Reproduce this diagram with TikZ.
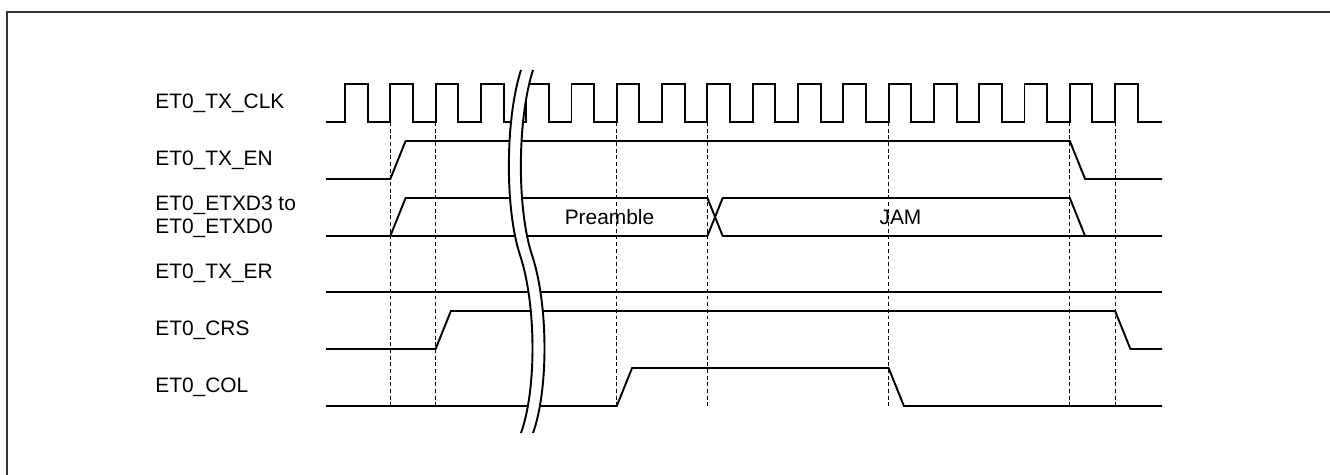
\documentclass[tikz,border=0pt]{standalone}
\usepackage{fontspec}
\setmainfont{Liberation Sans}
\usepackage{tikz}
\usetikzlibrary{positioning}
\tikzset{
  every node/.style={font=\fontsize{11.9}{13.4}\selectfont},
  signame/.style={anchor=west, align=left, inner sep=0pt},
  wave/.style={line width=1.1pt, line join=miter},
  guide/.style={line width=0.6pt, dash pattern=on 2.2pt off 1.6pt},
  brkline/.style={line width=1.1pt},
  frame/.style={line width=0.9pt, draw=black!80},
}

\begin{document}
\begin{tikzpicture}[x=0.02cm, y=-0.02cm]
  \useasboundingbox (0,0) rectangle (1330,475);
  \draw[frame] (7,475) -- (7,12) -- (1330,12);

  \node[signame] (clk) at (155,103) {ET0\_TX\_CLK};
  \node[signame] (en)  at (155,160) {ET0\_TX\_EN};
  \node[signame] (txd) at (155,217) {ET0\_ETXD3 to\\ET0\_ETXD0};
  \node[signame] (er)  at (155,273) {ET0\_TX\_ER};
  \node[signame] (crs) at (155,330) {ET0\_CRS};
  \node[signame] (col) at (155,387) {ET0\_COL};

  \foreach \k in {1,2,6,8,12,16,17}
    \draw[guide] ({345+\k*45.3},122) -- ({345+\k*45.3},406);

  \draw[wave] (326,122) foreach \k in {0,...,17} {
      -- ({345+\k*45.3},122) -- ({345+\k*45.3},84)
      -- ({367.65+\k*45.3},84) -- ({367.65+\k*45.3},122) } -- (1162,122);
  \draw[wave] (326,179) -- (390.3,179) -- (405.6,141) -- (1069.8,141) -- (1085.1,179) -- (1162,179);
  \draw[wave] (326,236) -- (390.3,236) -- (405.6,198) -- (707.4,198) -- (722.7,236) -- (1162,236);
  \draw[wave] (390.3,236) -- (707.4,236) -- (722.7,198) -- (1069.8,198) -- (1085.1,236);
  \draw[wave] (326,292) -- (1162,292);
  \draw[wave] (326,349) -- (435.6,349) -- (450.9,311) -- (1115.1,311) -- (1130.4,349) -- (1162,349);
  \draw[wave] (326,406) -- (616.8,406) -- (632.1,368) -- (888.6,368) -- (903.9,406) -- (1162,406);

  \node (pre) at (609.5,217) {Preamble};
  \node (jam) at (900.5,217) {JAM};

  \fill[white] (521,70) .. controls (505,120) and (505,210) .. (520,255)
    .. controls (536.5,305) and (536.5,390) .. (521,433) -- (533,433)
    .. controls (548.5,390) and (548.5,305) .. (532,255)
    .. controls (517,210) and (517,120) .. (533,70) -- cycle;
  \draw[brkline] (521,70) .. controls (505,120) and (505,210) .. (520,255)
    .. controls (536.5,305) and (536.5,390) .. (521,433);
  \draw[brkline] (533,70) .. controls (517,120) and (517,210) .. (532,255)
    .. controls (548.5,305) and (548.5,390) .. (533,433);
\end{tikzpicture}
\end{document}
